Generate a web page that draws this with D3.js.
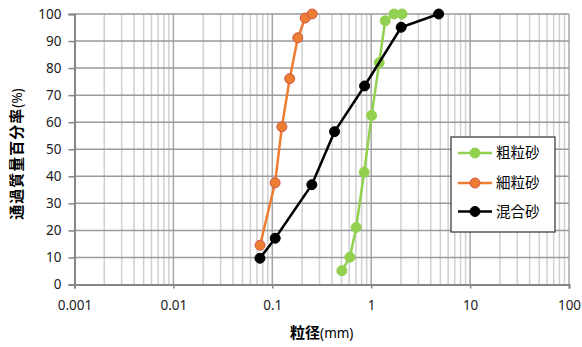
<!DOCTYPE html>
<html>
<head>
<meta charset="utf-8">
<script src="https://cdn.jsdelivr.net/npm/d3@7"></script>
<style>
  html, body { margin: 0; padding: 0; background: #fff; }
  svg { display: block; }
</style>
</head>
<body>
<script>
const [width, height] = [582, 347];
const margin = ({top: 14, right: 13, bottom: 62, left: 74.5});

// 粒径 (mm) と 通過質量百分率 (%)
const coarseSize = [0.505, 0.609, 0.705, 0.849, 1.01, 1.205, 1.386, 1.70, 2.05];
const coarsePass = [5.1, 10.1, 21.1, 41.5, 62.5, 82, 97.5, 100, 100];
const fineSize = [0.0752, 0.1067, 0.125, 0.150, 0.181, 0.215, 0.253];
const finePass = [14.5, 37.6, 58.3, 76.1, 91.2, 98.5, 100];
const mixSize = [0.075, 0.107, 0.251, 0.426, 0.857, 2.01, 4.81];
const mixPass = [9.7, 17.1, 36.9, 56.5, 73.4, 95.1, 100];

const seriesNames = ['粗粒砂', '細粒砂', '混合砂'];
const xTicks = [0.001, 0.01, 0.1, 1, 10, 100];
const yTicks = [0, 10, 20, 30, 40, 50, 60, 70, 80, 90, 100];

const zip = (a, b) => a.map((v, i) => [v, b[i]]);
const series = [
  {name: seriesNames[0], pts: zip(coarseSize, coarsePass), line: '#92d050', fill: '#92d050', stroke: '#92d050'},
  {name: seriesNames[1], pts: zip(fineSize, finePass), line: '#ed7d31', fill: '#ed7d31', stroke: '#d0584a'},
  {name: seriesNames[2], pts: zip(mixSize, mixPass), line: '#000000', fill: '#000000', stroke: '#000000'},
];

const x = d3.scaleLog()
  .domain([0.001, 100])
  .range([margin.left, width - margin.right]);

const y = d3.scaleLinear()
  .domain([0, 100])
  .range([height - margin.bottom - 0.5, margin.top]);

const svg = d3.select('body').append('svg')
  .attr('width', width)
  .attr('height', height)
  .attr('viewBox', [0, 0, width, height])
  .style('font-family', '"Noto Sans", "Noto Sans CJK JP", sans-serif');

svg.append('rect').attr('width', width).attr('height', height).attr('fill', '#fff');

// minor / major vertical grid
const minor = [];
for (let e = -3; e < 2; e++) for (let k = 2; k <= 9; k++) minor.push(k * Math.pow(10, e));

svg.append('g')
  .attr('stroke', '#d0d0d0')
  .attr('stroke-width', 1.5)
  .selectAll('line')
  .data(minor)
  .join('line')
    .attr('x1', d => x(d)).attr('x2', d => x(d))
    .attr('y1', y(0)).attr('y2', y(100));

svg.append('g')
  .attr('stroke', '#a6a6a6')
  .attr('stroke-width', 1.5)
  .selectAll('line')
  .data(xTicks.slice(1))
  .join('line')
    .attr('x1', d => x(d)).attr('x2', d => x(d))
    .attr('y1', y(0)).attr('y2', y(100));

svg.append('g')
  .attr('stroke', '#9a9a9a')
  .attr('stroke-width', 1.5)
  .selectAll('line')
  .data(yTicks.slice(1))
  .join('line')
    .attr('x1', x(0.001)).attr('x2', x(100))
    .attr('y1', d => y(d)).attr('y2', d => y(d));

// axes
const xAxis = g => g
  .attr('transform', `translate(0,${y(0)})`)
  .call(d3.axisBottom(x).tickValues(xTicks).tickSize(4).tickPadding(12).tickFormat(d => String(d)))
  .call(g => g.select('.domain').attr('stroke', '#868686').attr('stroke-width', 2));

const yAxis = g => g
  .attr('transform', `translate(${x(0.001)},0)`)
  .call(d3.axisLeft(y).tickValues(yTicks).tickSize(6).tickPadding(7))
  .call(g => g.select('.domain').attr('stroke', '#868686').attr('stroke-width', 2));

[svg.append('g').call(xAxis), svg.append('g').call(yAxis)].forEach(g => {
  g.attr('font-family', null).attr('font-size', 13.5);
  g.selectAll('.tick line').attr('stroke', '#868686').attr('stroke-width', 1.5);
  g.selectAll('.tick text').attr('fill', '#222');
});

// lines and markers
const line = d3.line().x(d => x(d[0])).y(d => y(d[1]));

series.forEach(s => {
  svg.append('path')
    .datum(s.pts)
    .attr('fill', 'none')
    .attr('stroke', s.line)
    .attr('stroke-width', 2.5)
    .attr('d', line);
  svg.append('g')
    .selectAll('circle')
    .data(s.pts)
    .join('circle')
      .attr('cx', d => x(d[0]))
      .attr('cy', d => y(d[1]))
      .attr('r', 5)
      .attr('fill', s.fill)
      .attr('stroke', s.stroke)
      .attr('stroke-width', 1);
});

// axis titles
const yTitle = svg.append('text')
  .attr('transform', 'translate(22,154) rotate(-90)')
  .attr('text-anchor', 'middle')
  .attr('font-size', 15)
  .attr('fill', '#000');
yTitle.append('tspan').attr('font-weight', 'bold').attr('font-family', '"Noto Sans CJK JP"').attr('letter-spacing', 1).text('通過質量百分率');
yTitle.append('tspan').attr('font-size', 13.5).text('(%)');

const xTitle = svg.append('text')
  .attr('x', (x(0.001) + x(100)) / 2)
  .attr('y', 338)
  .attr('text-anchor', 'middle')
  .attr('font-size', 15)
  .attr('fill', '#000');
xTitle.append('tspan').attr('font-weight', 'bold').attr('font-family', '"Noto Sans CJK JP"').text('粒径');
xTitle.append('tspan').attr('font-size', 13.5).text('(mm)');

// legend
const legend = svg.append('g').attr('transform', 'translate(451,137)');
legend.append('rect')
  .attr('width', 104).attr('height', 95)
  .attr('fill', '#fff')
  .attr('stroke', '#404040')
  .attr('stroke-width', 1.3);

const rowY = [16, 46, 74.5];
series.forEach((s, i) => {
  const row = legend.append('g').attr('transform', `translate(0,${rowY[i]})`);
  row.append('line').attr('x1', 7).attr('x2', 41).attr('stroke', s.line).attr('stroke-width', 2.5);
  row.append('circle').attr('cx', 24).attr('r', 5).attr('fill', s.fill).attr('stroke', s.stroke);
  row.append('text')
    .attr('x', 45).attr('dy', '0.36em')
    .attr('font-family', '"Noto Sans CJK JP"')
    .attr('font-size', 14.5)
    .attr('fill', '#000')
    .text(s.name);
});
</script>
</body>
</html>
